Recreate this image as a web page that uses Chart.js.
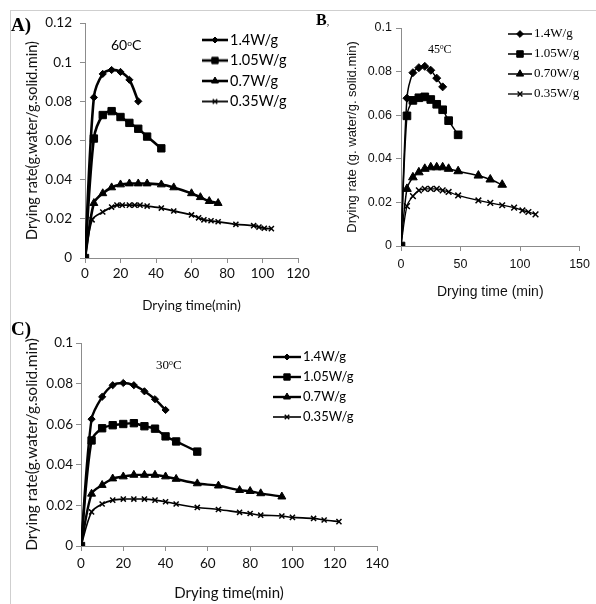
<!DOCTYPE html>
<html>
<head>
<meta charset="utf-8">
<script src="https://cdn.jsdelivr.net/npm/chart.js@4.4.1/dist/chart.umd.min.js"></script>
<style>
  body { margin: 0; background: #fff; width: 596px; height: 604px; position: relative; overflow: hidden; }
  canvas { position: absolute; }
  .frame-top { position: absolute; left: 10px; top: 10px; width: 586px; height: 1px; background: #cfcfcf; }
  .frame-left { position: absolute; left: 10px; top: 10px; width: 1px; height: 594px; background: #cfcfcf; }
  .lbl { position: absolute; white-space: nowrap; color: #000; line-height: 1; }
  .panel { font-family: "Liberation Serif", "DejaVu Serif", serif; font-weight: bold; }
  sup { font-size: 60%; vertical-align: 0.5em; line-height: 0; }
</style>
</head>
<body>
<div class="frame-top"></div>
<div class="frame-left"></div>

<canvas id="chartA" width="318" height="314" style="left:0;top:0"></canvas>
<canvas id="chartB" width="296" height="302" style="left:300px;top:0"></canvas>
<canvas id="chartC" width="400" height="304" style="left:0;top:300px"></canvas>

<div class="lbl panel" style="left:11px;top:15px;font-size:19px">A)</div>
<div class="lbl panel" style="left:316px;top:12px;font-size:16px">B<span style="font-size:10px;font-weight:normal">,</span></div>
<div class="lbl panel" style="left:11px;top:319px;font-size:19px">C)</div>

<div class="lbl" style="left:111px;top:36px;font:14px Lato, sans-serif">60<sup>o</sup>C</div>
<div class="lbl" style="left:428px;top:42px;font:12px 'Liberation Serif', serif">45<sup>o</sup>C</div>
<div class="lbl" style="left:156px;top:357px;font:13px 'Liberation Serif', serif">30<sup>o</sup>C</div>

<script>
// ---- Panel A: 60 oC ----
const timeA14 = [0, 5, 10, 15, 20, 25, 30];
const rateA14 = [0, 0.082, 0.094, 0.096, 0.095, 0.091, 0.080];
const timeA105 = [0, 5, 10, 15, 20, 25, 30, 35, 43];
const rateA105 = [0, 0.061, 0.073, 0.075, 0.072, 0.069, 0.066, 0.062, 0.056];
const timeA07 = [0, 5, 10, 15, 20, 25, 30, 35, 43, 50, 60, 65, 70, 75];
const rateA07 = [0, 0.028, 0.033, 0.036, 0.0375, 0.038, 0.038, 0.038, 0.0375, 0.036, 0.033, 0.031, 0.029, 0.028];
const timeA035 = [0, 4, 10, 15, 18, 21, 25, 28, 31, 35, 43, 50, 60, 64, 67, 71, 75, 85, 95, 98, 101, 105];
const rateA035 = [0, 0.0195, 0.0235, 0.026, 0.027, 0.027, 0.027, 0.027, 0.027, 0.0265, 0.0255, 0.024, 0.022, 0.0205, 0.0195, 0.019, 0.0185, 0.0172, 0.0165, 0.0158, 0.0152, 0.015];

// ---- Panel B: 45 oC ----
const timeB14 = [0, 5, 10, 15, 20, 25, 30, 35];
const rateB14 = [0, 0.0678, 0.0795, 0.0818, 0.0824, 0.0806, 0.077, 0.073];
const timeB105 = [0, 5, 10, 15, 20, 25, 30, 35, 40, 48];
const rateB105 = [0, 0.0597, 0.0668, 0.068, 0.0684, 0.0672, 0.065, 0.0625, 0.0575, 0.051];
const timeB07 = [0, 5, 10, 15, 20, 25, 30, 35, 40, 48, 65, 75, 85];
const rateB07 = [0, 0.0262, 0.0315, 0.0338, 0.0354, 0.0361, 0.0361, 0.0361, 0.0354, 0.0343, 0.0323, 0.0305, 0.0281];
const timeB035 = [0, 5, 10, 15, 20, 25, 30, 35, 40, 48, 65, 75, 85, 95, 102, 107, 113];
const rateB035 = [0, 0.0183, 0.0229, 0.0255, 0.0262, 0.0262, 0.0262, 0.0255, 0.0248, 0.0232, 0.0209, 0.0198, 0.0187, 0.0176, 0.0163, 0.0156, 0.0145];

// ---- Panel C: 30 oC ----
const timeC14 = [0, 5, 10, 15, 20, 25, 30, 35, 40];
const rateC14 = [0, 0.0625, 0.0735, 0.0792, 0.0803, 0.0792, 0.0762, 0.0723, 0.067];
const timeC105 = [0, 5, 10, 15, 20, 25, 30, 35, 40, 45, 55];
const rateC105 = [0, 0.052, 0.058, 0.0595, 0.0601, 0.0605, 0.059, 0.0578, 0.054, 0.0515, 0.0465];
const timeC07 = [0, 5, 10, 15, 20, 25, 30, 35, 40, 45, 55, 65, 75, 80, 85, 95];
const rateC07 = [0, 0.0257, 0.03, 0.0332, 0.0342, 0.035, 0.035, 0.035, 0.0342, 0.033, 0.0308, 0.0297, 0.0275, 0.027, 0.0259, 0.0243];
const timeC035 = [0, 5, 10, 15, 20, 25, 30, 35, 40, 45, 55, 65, 75, 80, 85, 95, 100, 110, 115, 122];
const rateC035 = [0, 0.0168, 0.0207, 0.0226, 0.0231, 0.0231, 0.0231, 0.0226, 0.0218, 0.0207, 0.019, 0.018, 0.0166, 0.016, 0.0152, 0.0148, 0.0141, 0.0136, 0.0128, 0.012];

// legends and axis ticks
const labelsA = ['1.4W/g', '1.05W/g', '0.7W/g', '0.35W/g'];
const labelsB = ['1.4W/g', '1.05W/g', '0.70W/g', '0.35W/g'];
const labelsC = ['1.4W/g', '1.05W/g', '0.7W/g', '0.35W/g'];
const xTicksA = { min: 0, max: 120, step: 20 };
const yTicksA = { min: 0, max: 0.12, step: 0.02 };
const xTicksB = { min: 0, max: 150, step: 50 };
const yTicksB = { min: 0, max: 0.1, step: 0.02 };
const xTicksC = { min: 0, max: 140, step: 20 };
const yTicksC = { min: 0, max: 0.1, step: 0.02 };

const markers = ['rectRot', 'rect', 'triangle', 'crossRot'];
const AXIS_GREY = '#8c8c8c';

function toPoints(xs, ys) {
  return xs.map((x, i) => ({ x: x, y: ys[i] }));
}

// small canvas with line + marker, used as the legend symbol
function legendIcon(style, radius, lineW, iconW) {
  const c = document.createElement('canvas');
  c.width = iconW;
  c.height = 14;
  const ctx = c.getContext('2d');
  ctx.strokeStyle = '#000';
  ctx.fillStyle = '#000';
  ctx.lineWidth = lineW;
  ctx.beginPath();
  ctx.moveTo(0, 7);
  ctx.lineTo(iconW, 7);
  ctx.stroke();
  const bw = style === 'crossRot' ? 1.4 : 1;
  ctx.lineWidth = bw;
  Chart.helpers.drawPoint(ctx, { pointStyle: style, radius: radius, borderWidth: bw, rotation: 0 }, iconW / 2, 7);
  return c;
}

function axis(t, o) {
  return {
    type: 'linear',
    min: t.min,
    max: t.max,
    ticks: {
      stepSize: t.step,
      color: '#111',
      font: o.tickFont,
      padding: o.tickPad,
      autoSkip: false,
      maxRotation: 0,
      callback: v => String(Math.round(v * 1000) / 1000)
    },
    grid: { drawOnChartArea: false, drawTicks: true, tickLength: 5, color: AXIS_GREY },
    border: { display: true, color: AXIS_GREY, width: 1 },
    title: { display: true, text: o.title, color: '#111', font: o.titleFont, padding: o.titlePad },
    afterFit: s => {
      if (s.isHorizontal()) s.height = o.size; else s.width = o.size;
    }
  };
}

function makePanel(id, p) {
  const iconW = p.legend.iconW;
  const fs = p.legend.font.size;
  const boxW = iconW + 4 - fs;
  const icons = markers.map((m, i) => legendIcon(m, p.legend.radii[i], p.lineWidths[i], iconW));

  const datasets = p.series.map((s, i) => ({
    label: p.labels[i],
    data: toPoints(s[0], s[1]),
    borderColor: '#000',
    backgroundColor: '#000',
    borderWidth: p.lineWidths[i],
    pointStyle: markers[i],
    pointRadius: p.radii[i],
    pointHoverRadius: p.radii[i],
    pointBackgroundColor: '#000',
    pointBorderColor: '#000',
    pointBorderWidth: markers[i] === 'crossRot' ? 1.5 : 1,
    tension: 0.3,
    order: p.order[i]
  }));

  // put the legend inside the plot, at the spot it has in the reference
  const legendMover = {
    id: 'legendMover',
    afterLayout(chart) {
      const lg = chart.legend;
      const pad = p.legend.padding;
      const itemX = p.legend.iconLeft - boxW / 2 + iconW / 2;
      lg.left = itemX - pad;
      lg.top = p.legend.firstY - pad - fs / 2;
      lg.right = lg.left + lg.width;
      lg.bottom = lg.top + lg.height;
    }
  };

  return new Chart(document.getElementById(id), {
    type: 'line',
    data: { datasets: datasets },
    options: {
      responsive: false,
      animation: false,
      devicePixelRatio: 1,
      layout: { padding: p.padding },
      plugins: {
        tooltip: { enabled: false },
        legend: {
          position: 'chartArea',
          align: 'start',
          labels: {
            usePointStyle: true,
            pointStyleWidth: boxW,
            padding: p.legend.padding,
            font: p.legend.font,
            color: '#000',
            generateLabels: chart => chart.data.datasets.map((ds, i) => ({
              text: ds.label,
              pointStyle: icons[i],
              datasetIndex: i,
              hidden: false,
              lineWidth: 0,
              fillStyle: '#000',
              strokeStyle: '#000',
              fontColor: '#000'
            }))
          }
        }
      },
      scales: {
        x: axis(p.xTicks, p.xAxis),
        y: axis(p.yTicks, p.yAxis)
      }
    },
    plugins: [legendMover]
  });
}

const calibriLike = 'Lato, "Open Sans", sans-serif';
const arialLike = '"Liberation Sans", Arial, sans-serif';
const timesLike = '"Liberation Serif", "Times New Roman", serif';

makePanel('chartA', {
  series: [[timeA14, rateA14], [timeA105, rateA105], [timeA07, rateA07], [timeA035, rateA035]],
  labels: labelsA,
  lineWidths: [2.6, 2.6, 2.6, 1.8],
  radii: [3.6, 5.2, 4.6, 3.6],
  order: [3, 2, 1, 0],
  padding: { left: 18, top: 23, right: 20, bottom: 0 },
  xTicks: xTicksA,
  yTicks: yTicksA,
  xAxis: { size: 56, tickPad: 3, tickFont: { family: calibriLike, size: 13.5 }, title: 'Drying time(min)', titleFont: { family: calibriLike, size: 13.5 }, titlePad: { top: 0, bottom: 0 } },
  yAxis: { size: 67, tickPad: 8, tickFont: { family: calibriLike, size: 13.5 }, title: 'Drying rate(g.water/g.solid.min)', titleFont: { family: calibriLike, size: 14.5 }, titlePad: { top: 6, bottom: 0 } },
  legend: { iconLeft: 202, firstY: 40, iconW: 26, padding: 6, radii: [3, 4.5, 4, 3.2], font: { family: calibriLike, size: 14.5 } }
});

makePanel('chartB', {
  series: [[timeB14, rateB14], [timeB105, rateB105], [timeB07, rateB07], [timeB035, rateB035]],
  labels: labelsB,
  lineWidths: [1.5, 1.5, 1.5, 1.3],
  radii: [4, 5.4, 5, 4],
  order: [2, 0, 3, 1],
  padding: { left: 40, top: 28, right: 10, bottom: 0 },
  xTicks: xTicksB,
  yTicks: yTicksB,
  xAxis: { size: 56, tickPad: 6, tickFont: { family: arialLike, size: 12.5 }, title: 'Drying time (min)', titleFont: { family: arialLike, size: 14 }, titlePad: { top: 0, bottom: 1 } },
  yAxis: { size: 61, tickPad: 4, tickFont: { family: arialLike, size: 12.5 }, title: 'Drying rate (g. water/g. solid.min)', titleFont: { family: arialLike, size: 13 }, titlePad: { top: 5, bottom: 0 } },
  legend: { iconLeft: 208, firstY: 34, iconW: 24, padding: 7, radii: [3.4, 4.6, 4.2, 3.4], font: { family: timesLike, size: 13 } }
});

makePanel('chartC', {
  series: [[timeC14, rateC14], [timeC105, rateC105], [timeC07, rateC07], [timeC035, rateC035]],
  labels: labelsC,
  lineWidths: [2.4, 2.4, 2.4, 1.6],
  radii: [3.6, 5.2, 4.6, 3.6],
  order: [3, 2, 1, 0],
  padding: { left: 18, top: 43, right: 23, bottom: 0 },
  xTicks: xTicksC,
  yTicks: yTicksC,
  xAxis: { size: 58, tickPad: 5, tickFont: { family: calibriLike, size: 13.5 }, title: 'Drying time(min)', titleFont: { family: calibriLike, size: 15 }, titlePad: { top: 0, bottom: 2 } },
  yAxis: { size: 63, tickPad: 3, tickFont: { family: calibriLike, size: 13.5 }, title: 'Drying rate(g.water/g.solid.min)', titleFont: { family: calibriLike, size: 15.5 }, titlePad: { top: 5, bottom: 0 } },
  legend: { iconLeft: 273, firstY: 57, iconW: 28, padding: 7, radii: [3, 4.5, 4, 3.2], font: { family: calibriLike, size: 13 } }
});
</script>
</body>
</html>
